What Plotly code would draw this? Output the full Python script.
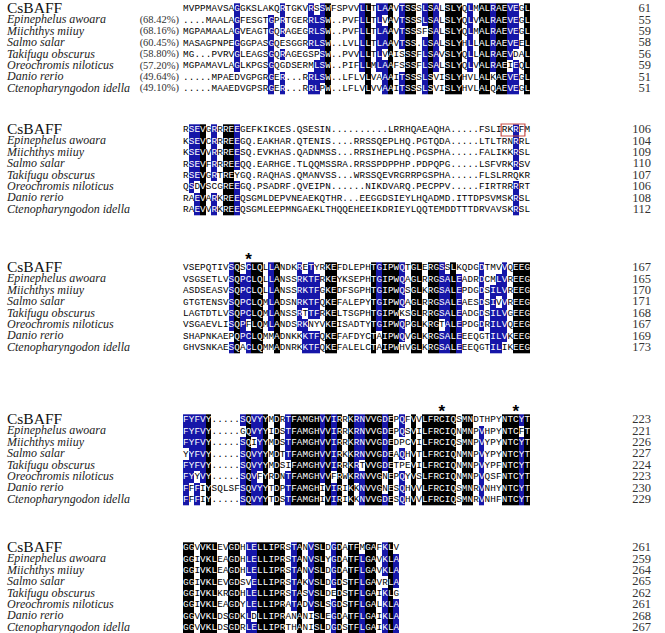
import plotly.graph_objects as go

# ---------------- data ----------------
species = ["CsBAFF", "Epinephelus awoara", "Miichthys miiuy", "Salmo salar",
           "Takifugu obscurus", "Oreochromis niloticus", "Danio rerio",
           "Ctenopharyngodon idella"]
identity = ["", "(68.42%)", "(68.16%)", "(60.45%)", "(58.80%)", "(57.20%)",
            "(49.64%)", "(49.10%)"]

block1 = [
    "MVPPMAVSAGGKSLAKQRTGKVRSSWFSPVVLLTLAAVTSSSLSALSLYQLMALRAEVEGL",
    "....MAALAGFESGTGPRTGERRLSW..PVFLLTLVAVTSSSLSALSLYQLVALRAEVEGL",
    "MGPAMAALAGVEAGTGQRAGEGRLSW..PVFLLTLAAVTSSSFSALSLYQLMALRAEVEGL",
    "MASAGPNPEGGGPASGQESGGRRLSW..LVLLLTLAAVTSS.LSALSLYHLLALRAEVEEL",
    "MG...PVRVGLEAGSGQRAGEGSPSW..PVVLLTLVAISSSFLSAVSLYQLLALRAEVDAL",
    "MGPAMAVLAGLKPGSGQGDSERMLSW..PIFLLMLAAFSSSFLSALSLYQLVALRAEIEQL",
    ".....MPAEDVGPGRGER...RRLSW..LFLVLVAAAITSSSLSVISLYHVLALKAEVEGL",
    ".....MAAEDVGPSRGER...RRLPW..LFLVLVVAAITSSSLSVISLYHVLALQAEVEGL",
]
block2 = [
    "RSEVGRRREEGEFKIKCES.QSESIN..........LRRHQAEAQHA.....FSLIRKRFM",
    "KSEVCRRREEGQ.EAKHAR.QTENIS....RRSSQEPLHQ.PGTQDA.....LTLTRNRRL",
    "KSEVVRRREESQ.EVKHAS.QADNMSS...RRSIHEPLHQ.PGSPHA.....FALIKKRSL",
    "RSEVFRRREEQQ.EARHGE.TLQQMSSRA.RRSSPDPPHP.PDPQPG.....LSFVRKRSV",
    "RSEVGRTREYGQ.RAQHAS.QMANVSS...WRSSQEVRGRRPGSPHA.....FLSLRRQKR",
    "QSDVSCGREEGQ.PSADRF.QVEIPN......NIKDVARQ.PECPPV.....FIRTRRRRT",
    "RAEVARKREEQSGMLDEPVNEAEKQTHR...EEGGDSIEYLHQADMD.ITTDPSVMSKRSL",
    "RAEVVRKREEQSGMLEEPMNGAEKLTHQQEHEEIKDRIEYLQQTEMDDTTTDRVAVSKRSL",
]
block3 = [
    "VSEPQTIVSQSCLQLLANDKRETYRKEFDLEPHTGIPWQTGLERGSSLKQDGDTMVVQEEG",
    "VSGSETLVSQPCLQLLANSSRKTFRKEYKSEPHTGIPWQAGLRRGSALEADRDCMLVREEG",
    "ASDSEASVSQPCLQLLANSSRKTFGKEDFSGPHTGIPWQSGLKRGSALEPDGDSILVREEG",
    "GTGTENSVSQPCLQMLADSNRKTFQKEFALEPYTGIPWQAGLRRGSALEAESDSIVVREEG",
    "LAGTDTLVSQPCLQMLANSSRTTFRKELTSGPHTGIPWKSGLRRGSALEADGDSILVGEEG",
    "VSGAEVLISQPFLQMLANDSRKNYVKEISADTYTGIPWQPGLKRGTALEPDGDRILVQEEG",
    "SHAPNKAEPQPCLQMMADNKKKTFQKEFAFDYCTAIPWQVGLKRGSALEEEQGTILVKEEG",
    "GHVSNKAESQACLQMMADNRKKTFQKEFALELCTAIPWHVGLKRGSALEEEQGTILIKEEG",
]
block4 = [
    "FYFVY.....SQVYYMDRTFAMGHVVIRRKRNVVGDEPQFVVLFRCIQSMNDTHPYNTCYT",
    "FYFVY.....GQVYYIDSTFAMGHVVIRRKRNVVGDEPQSVILFRCIQNMNPVHPYNTCFT",
    "FYFVY.....SQIYYMDSTFAMGHVVIRRKRNVVGDEDPCVILFRCIQSMNPVYPYNTCYT",
    "YYFVY.....SQVYYMDTTFAMGHVVIRKKRNVVGDEAQHVTLFRCIQNMNPVYPYNTCYT",
    "FYFVY.....SQVYYMDSIFAMGHVVIRRKRTVVGDETPEVILFRCIQNMNPVYPFNTCYT",
    "FYYVY.....SQVFYRDNTFAMGHVVFRWKRNVVGNEPQYVSLFRCIQNMNPVQSFNTCYT",
    "FFFIYSQLSFSQVYYTDPTFAMGHIVIRIKKNVVGNESQHVVLFRCIQSMNRVNHYNTCYT",
    "FFFIY.....SQVYYTDSTFAMGHIVIRIKKNVVGDESQHVVLFRCIQSMNRVNHFNTCYT",
]
block5 = [
    "GGVVKLEVGDHLELLIPRSTANVSLDGDATFMGAFKLV",
    "GGIVKLEAGDHLELLIPRSTANVSLYGDATFLGAVKLA",
    "GGIVKLEAGDHLELLIPRSTANVSLDGDATFLGAVKLA",
    "GGIVKLEVGDSVELLIPRSTAKVSLDGDSTFLGAVRLA",
    "GGIVKLKRGDHLELLIPRSTASVSLDEDSTFLGAIKLG",
    "GGIVKLEAGDYLELLIPRATADVSLSGDSTFLGALKLA",
    "GGVVKLDSGDKLDLLIPRANANISLEGDATFLGAIKLA",
    "GGVVKLDSGDRLELLIPRTHANISLDGDSTFLGAIKLA",
]
blocks = [block1, block2, block3, block4, block5]

end_numbers = [
    [61, 55, 59, 58, 56, 59, 51, 51],
    [106, 104, 109, 110, 107, 106, 108, 112],
    [167, 165, 170, 171, 168, 167, 169, 173],
    [223, 221, 226, 227, 224, 223, 230, 229],
    [261, 259, 264, 265, 262, 261, 268, 267],
]
# conserved cysteines (1-based column within a block)
star_columns = [[], [], [12], [46, 59], []]
# boxed motif: (block index, row index, first column, last column)
boxed_motif = [(1, 0, 57, 60)]

# ---------------- layout constants ----------------
W, H = 665, 633
X0 = 183.0          # left edge of sequence columns
PITCH = 5.69        # width of one residue column
ROW_H = 11.4        # row spacing
BLOCK_TOP = [9, 130, 268, 420, 548]
BLUE = "#1616a8"
SEQ_FONT = "Liberation Mono"
SERIF = "Liberation Serif"


def col_x(c):
    return X0 + (c - 0.5) * PITCH


fig = go.Figure()

cx, cy, ct, cc = [], [], [], []
for b, block in enumerate(blocks):
    ncol = len(block[0])
    ys = [BLOCK_TOP[b] + r * ROW_H for r in range(len(block))]
    xs = [col_x(c + 1) for c in range(ncol)]
    z = [[0] * ncol for _ in block]
    for c in range(ncol):
        col = [row[c] for row in block]
        res = [a for a in col if a != "."]
        if not res:
            continue
        best = max(sorted(set(res)), key=res.count)
        n = res.count(best)
        if n == len(block):
            level = 2
        elif n >= 0.75 * len(block):
            level = 1
        else:
            continue
        for r in range(len(block)):
            if col[r] == best:
                z[r][c] = level
    fig.add_trace(go.Heatmap(
        x=xs, y=ys, z=z, zmin=0, zmax=2, showscale=False, hoverinfo="skip",
        colorscale=[[0, "rgba(255,255,255,0)"], [0.33, "rgba(255,255,255,0)"],
                    [0.34, BLUE], [0.66, BLUE], [0.67, "#000000"], [1, "#000000"]],
    ))
    for r, row in enumerate(block):
        for c, ch in enumerate(row):
            cx.append(xs[c])
            cy.append(ys[r])
            ct.append(ch)
            cc.append("#ffffff" if z[r][c] > 0 else "#000000")

fig.add_trace(go.Scatter(
    x=cx, y=cy, text=ct, mode="text", textposition="middle center",
    textfont=dict(family=SEQ_FONT, size=9.3, color=cc), hoverinfo="skip"))

# names, identities, end positions, stars
for b in range(len(blocks)):
    ys = [BLOCK_TOP[b] + r * ROW_H for r in range(8)]
    fig.add_trace(go.Scatter(
        x=[7], y=[ys[0]], text=[species[0]], mode="text",
        textposition="middle right",
        textfont=dict(family=SERIF, size=15.5, color="#111111"), hoverinfo="skip"))
    fig.add_trace(go.Scatter(
        x=[7] * 7, y=ys[1:], text=species[1:], mode="text",
        textposition="middle right",
        textfont=dict(family=SERIF, size=12, color="#222222", style="italic"),
        hoverinfo="skip"))
    if b == 0:
        fig.add_trace(go.Scatter(
            x=[179] * 7, y=ys[1:], text=identity[1:], mode="text",
            textposition="middle left",
            textfont=dict(family=SERIF, size=10.5, color="#333333"),
            hoverinfo="skip"))
    fig.add_trace(go.Scatter(
        x=[651] * 8, y=ys, text=[str(v) for v in end_numbers[b]], mode="text",
        textposition="middle left",
        textfont=dict(family=SERIF, size=12.5, color="#333333"), hoverinfo="skip"))
    if star_columns[b]:
        fig.add_trace(go.Scatter(
            x=[col_x(c) for c in star_columns[b]],
            y=[ys[0] - 7] * len(star_columns[b]),
            text=["*"] * len(star_columns[b]), mode="text",
            textposition="middle center",
            textfont=dict(family="Liberation Sans", size=17, color="#000000",
                          weight="bold"),
            hoverinfo="skip"))

for (b, r, c1, c2) in boxed_motif:
    yc = BLOCK_TOP[b] + r * ROW_H
    fig.add_shape(type="rect", xref="x", yref="y",
                  x0=X0 + (c1 - 1) * PITCH - 0.5, x1=X0 + c2 * PITCH + 0.5,
                  y0=yc - 6, y1=yc + 6,
                  line=dict(color="#c8504a", width=1.2))

fig.update_layout(
    width=W, height=H, margin=dict(l=0, r=0, t=0, b=0),
    paper_bgcolor="white", plot_bgcolor="white", showlegend=False,
    xaxis=dict(range=[0, W], visible=False, fixedrange=True),
    yaxis=dict(range=[H, 0], visible=False, fixedrange=True),
)
fig.write_html(
    "out.html",
    config={"displayModeBar": False},
    post_script="document.body.style.margin='0';"
                "document.body.style.overflow='hidden';",
)
